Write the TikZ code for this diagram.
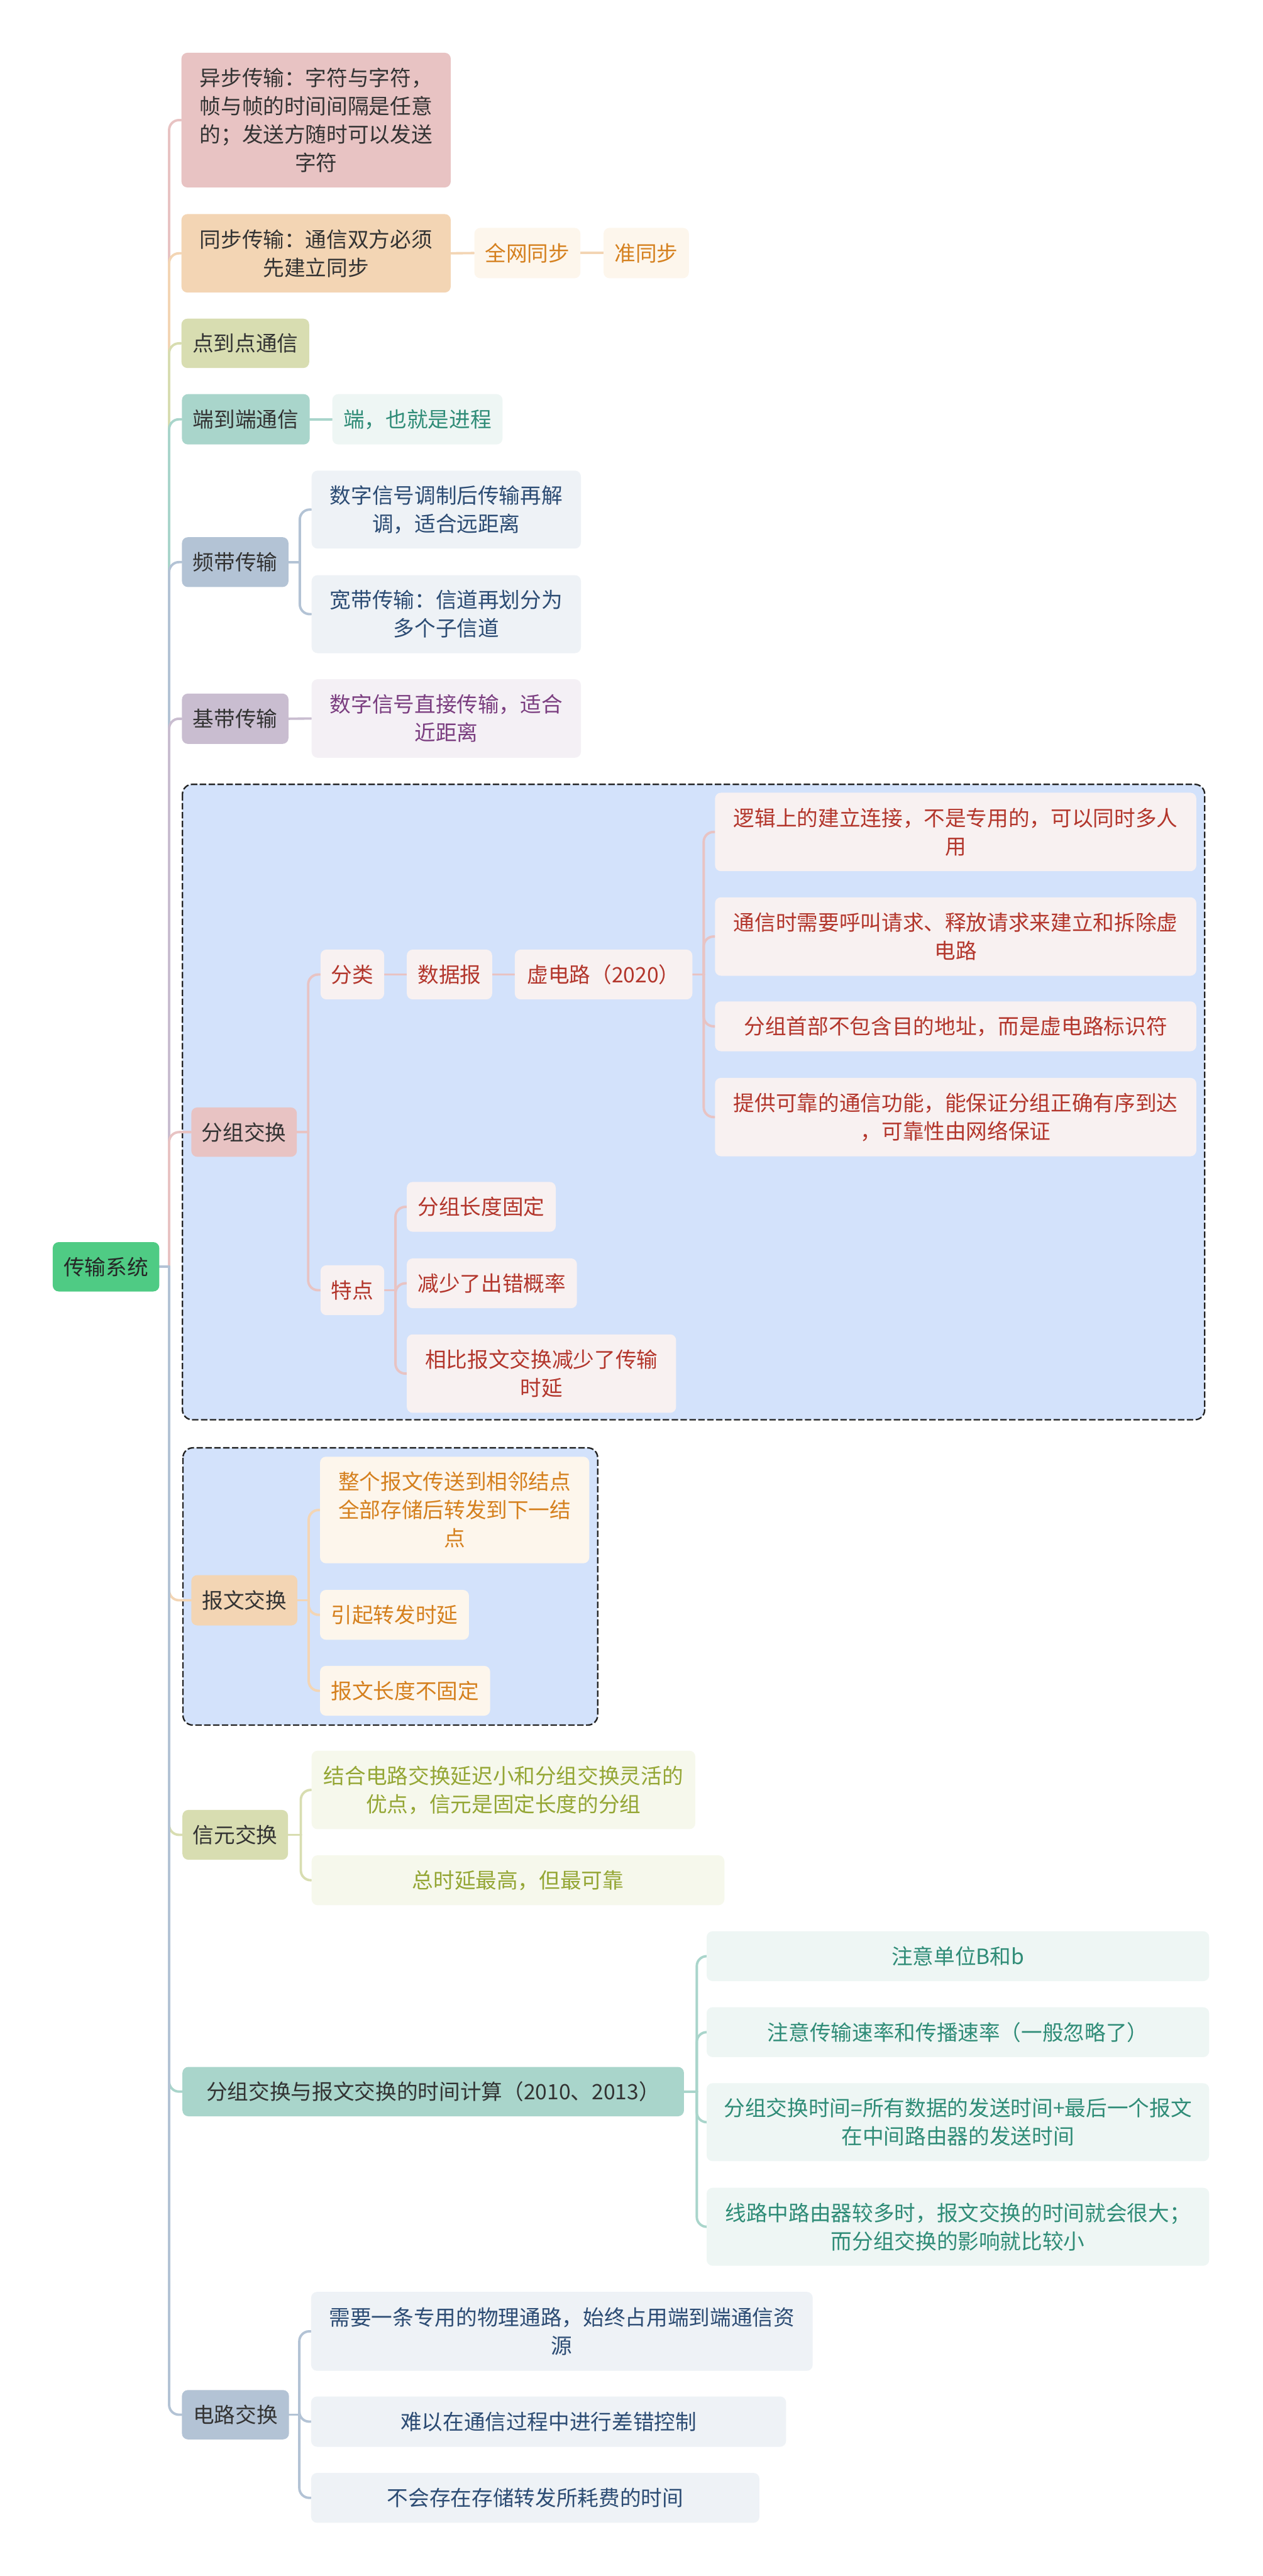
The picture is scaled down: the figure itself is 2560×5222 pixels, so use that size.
\documentclass[tikz,border=0pt]{standalone}
\usepackage{fontspec}
\setmainfont{Noto Sans CJK SC}
\pgfdeclarelayer{frames}
\pgfdeclarelayer{links}
\pgfsetlayers{frames,links,main}
\definecolor{rootg}{HTML}{4FCB84}
\definecolor{dk}{HTML}{333333}
\definecolor{frameD}{HTML}{222222}
\definecolor{pk}{HTML}{E8C3C3}
\definecolor{pc}{HTML}{F3D5B4}
\definecolor{kh}{HTML}{D8DDB1}
\definecolor{tl}{HTML}{A9D5CB}
\definecolor{bgr}{HTML}{B3C3D5}
\definecolor{pu}{HTML}{C9BDD0}
\definecolor{pkL}{HTML}{F8F1F1}
\definecolor{pcL}{HTML}{FDF6EC}
\definecolor{khL}{HTML}{F6F8EC}
\definecolor{tlL}{HTML}{EEF6F4}
\definecolor{bgrL}{HTML}{EEF2F6}
\definecolor{puL}{HTML}{F4F0F5}
\definecolor{pkT}{HTML}{B3362C}
\definecolor{pcT}{HTML}{D5801E}
\definecolor{khT}{HTML}{94A634}
\definecolor{tlT}{HTML}{2F8C77}
\definecolor{bgrT}{HTML}{2C4C74}
\definecolor{puT}{HTML}{7B3E80}
\definecolor{frameF}{HTML}{D3E2FB}
\newcommand\brc[4]{%
  \begin{pgfonlayer}{links}
  \draw[con=#1] (#2.east) -- (#2.east -| #4);
  \draw[con=#1, rounded corners=0.2cm] (#2.east -| #4) -- (#4 |- #3.west) -- (#3.west);
  \end{pgfonlayer}}
\newcommand\lnk[3]{%
  \begin{pgfonlayer}{links}
  \draw[con=#1] (#2.east) -- (#3.west);
  \end{pgfonlayer}}
\begin{document}
\begin{tikzpicture}[x=0.01cm,y=-0.01cm,
  box/.style={rounded corners=0.12cm, inner sep=0pt, align=center,
    font=\fontsize{12.2pt}{16.3pt}\selectfont},
  wh/.style 2 args={minimum width=#1*0.01cm, minimum height=#2*0.01cm},
  l1/.style={box, fill=#1, text=dk},
  ch/.style 2 args={box, fill=#1, text=#2},
  con/.style={line width=1.4pt, line cap=round, draw=#1},
  frame/.style={rounded corners=0.2cm, fill=frameF, draw=frameD, line width=0.85pt,
    dash pattern=on 0.13cm off 0.05cm}]
\useasboundingbox (0,0) rectangle (2560,5222);

\coordinate (vR) at (343,0);
\coordinate (vP) at (608,0);
\coordinate (vF) at (625,0);
\coordinate (vX) at (1427,0);
\coordinate (vT) at (802,0);
\coordinate (vB) at (626,0);
\coordinate (vC) at (610,0);
\coordinate (vS) at (1413,0);
\coordinate (vD) at (607,0);

% background and frames
\begin{pgfonlayer}{frames}
\fill[white] (0,0) rectangle (2560,5222);
\draw[frame] (370,1590) rectangle (2443,2878);
\draw[frame] (371,2935) rectangle (1212,3497);
\end{pgfonlayer}

% root
\node[box, fill=rootg, text=black!85, wh={216}{100}] (root) at (215,2568) {传输系统};

% level 1
\node[l1=pk, wh={546}{273}] (asy) at (641,243.5) {异步传输：字符与字符，\\帧与帧的时间间隔是任意\\的；发送方随时可以发送\\字符};
\node[l1=pc, wh={546}{159}] (syn) at (641,513.5) {同步传输：通信双方必须\\先建立同步};
\node[l1=kh, wh={259}{100}] (p2p) at (497.5,696) {点到点通信};
\node[l1=tl, wh={259}{102}] (e2e) at (498.5,850) {端到端通信};
\node[l1=bgr, wh={216}{101}] (pdt) at (477,1139.5) {频带传输};
\node[l1=pu, wh={216}{102}] (jdt) at (477,1457) {基带传输};
\node[l1=pk, wh={214}{100}] (fzj) at (495,2295) {分组交换};
\node[l1=pc, wh={215}{102}] (bwj) at (495.5,3244) {报文交换};
\node[l1=kh, wh={214}{101}] (xyj) at (477,3719.5) {信元交换};
\node[l1=tl, wh={1017}{100}] (sjj) at (878.5,4240) {分组交换与报文交换的时间计算（2010、2013）};
\node[l1=bgr, wh={217}{100}] (dlj) at (477.5,4895) {电路交换};

% 同步 children
\node[ch={pcL}{pcT}, wh={215}{102}] (qwtb) at (1069.5,513) {全网同步};
\node[ch={pcL}{pcT}, wh={173}{102}] (ztb) at (1310.5,513) {准同步};
% 端到端 child
\node[ch={tlL}{tlT}, wh={345}{102}] (duan) at (846.5,850) {端，也就是进程};
% 频带 children
\node[ch={bgrL}{bgrT}, wh={546}{158}] (pd1) at (905,1033) {数字信号调制后传输再解\\调，适合远距离};
\node[ch={bgrL}{bgrT}, wh={546}{158}] (pd2) at (905,1245) {宽带传输：信道再划分为\\多个子信道};
% 基带 child
\node[ch={puL}{puT}, wh={546}{159}] (jd1) at (905,1456.5) {数字信号直接传输，适合\\近距离};

% 分组交换 subtree
\node[ch={pkL}{pkT}, wh={129}{101}] (fl) at (714.5,1975.5) {分类};
\node[ch={pkL}{pkT}, wh={173}{101}] (sjb) at (911.5,1975.5) {数据报};
\node[ch={pkL}{pkT}, wh={360}{101}] (xdl) at (1224,1975.5) {虚电路（2020）};
\node[ch={pkL}{pkT}, wh={976}{159}] (xd1) at (1938,1686.5) {逻辑上的建立连接，不是专用的，可以同时多人\\用};
\node[ch={pkL}{pkT}, wh={976}{159}] (xd2) at (1938,1898.5) {通信时需要呼叫请求、释放请求来建立和拆除虚\\电路};
\node[ch={pkL}{pkT}, wh={976}{101}] (xd3) at (1938,2080.5) {分组首部不包含目的地址，而是虚电路标识符};
\node[ch={pkL}{pkT}, wh={976}{159}] (xd4) at (1938,2264.5) {提供可靠的通信功能，能保证分组正确有序到达\\，可靠性由网络保证};
\node[ch={pkL}{pkT}, wh={129}{101}] (td) at (714.5,2615.5) {特点};
\node[ch={pkL}{pkT}, wh={302}{101}] (td1) at (976,2446.5) {分组长度固定};
\node[ch={pkL}{pkT}, wh={345}{101}] (td2) at (997.5,2601.5) {减少了出错概率};
\node[ch={pkL}{pkT}, wh={546}{159}] (td3) at (1098,2784.5) {相比报文交换减少了传输\\时延};

% 报文交换 children
\node[ch={pcL}{pcT}, wh={546}{216}] (bw1) at (922,3061) {整个报文传送到相邻结点\\全部存储后转发到下一结\\点};
\node[ch={pcL}{pcT}, wh={302}{101}] (bw2) at (800,3273.5) {引起转发时延};
\node[ch={pcL}{pcT}, wh={345}{101}] (bw3) at (821.5,3427.5) {报文长度不固定};

% 信元交换 children
\node[ch={khL}{khT}, wh={778}{159}] (xy1) at (1021,3628.5) {结合电路交换延迟小和分组交换灵活的\\优点，信元是固定长度的分组};
\node[ch={khL}{khT}, wh={837}{101}] (xy2) at (1050.5,3811.5) {总时延最高，但最可靠};

% 时间计算 children
\node[ch={tlL}{tlT}, wh={1019}{101}] (sj1) at (1942.5,3965.5) {注意单位B和b};
\node[ch={tlL}{tlT}, wh={1019}{101}] (sj2) at (1942.5,4119.5) {注意传输速率和传播速率（一般忽略了）};
\node[ch={tlL}{tlT}, wh={1019}{158}] (sj3) at (1942.5,4302) {分组交换时间=所有数据的发送时间+最后一个报文\\在中间路由器的发送时间};
\node[ch={tlL}{tlT}, wh={1019}{158}] (sj4) at (1942.5,4514) {线路中路由器较多时，报文交换的时间就会很大；\\而分组交换的影响就比较小};

% 电路交换 children
\node[ch={bgrL}{bgrT}, wh={1017}{160}] (dl1) at (1139.5,4726) {需要一条专用的物理通路，始终占用端到端通信资\\源};
\node[ch={bgrL}{bgrT}, wh={963}{102}] (dl2) at (1112.5,4909) {难以在通信过程中进行差错控制};
\node[ch={bgrL}{bgrT}, wh={909}{101}] (dl3) at (1085.5,5063.5) {不会存在存储转发所耗费的时间};

% root connectors in top-to-bottom order (later ones lie on top)
\brc{pk}{root}{asy}{vR}
\brc{pc}{root}{syn}{vR}
\brc{kh}{root}{p2p}{vR}
\brc{tl}{root}{e2e}{vR}
\brc{bgr}{root}{pdt}{vR}
\brc{pu}{root}{jdt}{vR}
\brc{pk}{root}{fzj}{vR}
\brc{pc}{root}{bwj}{vR}
\brc{kh}{root}{xyj}{vR}
\brc{tl}{root}{sjj}{vR}
\brc{bgr}{root}{dlj}{vR}

% sub connectors
\lnk{pc}{syn}{qwtb}
\lnk{pc}{qwtb}{ztb}
\lnk{tl}{e2e}{duan}
\brc{bgr}{pdt}{pd1}{vP}
\brc{bgr}{pdt}{pd2}{vP}
\lnk{pu}{jdt}{jd1}
\brc{pk}{fzj}{fl}{vF}
\brc{pk}{fzj}{td}{vF}
\lnk{pk}{fl}{sjb}
\lnk{pk}{sjb}{xdl}
\brc{pk}{xdl}{xd1}{vX}
\brc{pk}{xdl}{xd2}{vX}
\brc{pk}{xdl}{xd3}{vX}
\brc{pk}{xdl}{xd4}{vX}
\brc{pk}{td}{td1}{vT}
\brc{pk}{td}{td2}{vT}
\brc{pk}{td}{td3}{vT}
\brc{pc}{bwj}{bw1}{vB}
\brc{pc}{bwj}{bw2}{vB}
\brc{pc}{bwj}{bw3}{vB}
\brc{kh}{xyj}{xy1}{vC}
\brc{kh}{xyj}{xy2}{vC}
\brc{tl}{sjj}{sj1}{vS}
\brc{tl}{sjj}{sj2}{vS}
\brc{tl}{sjj}{sj3}{vS}
\brc{tl}{sjj}{sj4}{vS}
\brc{bgr}{dlj}{dl1}{vD}
\brc{bgr}{dlj}{dl2}{vD}
\brc{bgr}{dlj}{dl3}{vD}
\end{tikzpicture}
\end{document}
